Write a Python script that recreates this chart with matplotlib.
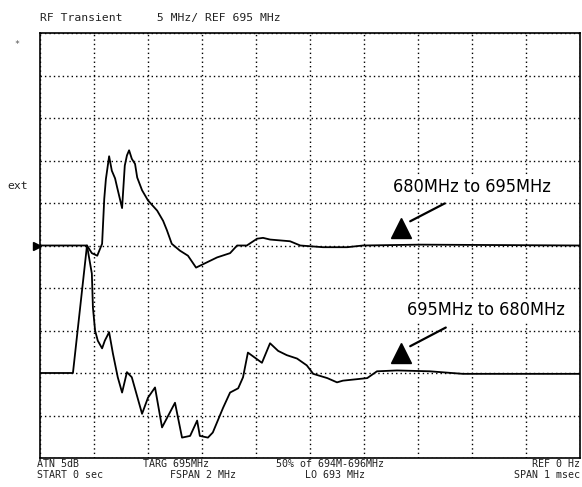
import matplotlib.pyplot as plt
import numpy as np

# time in msec, frequency in MHz
up_t = [0.0, 0.061, 0.087, 0.096, 0.106, 0.115, 0.119, 0.122, 0.128, 0.133,
        0.139, 0.143, 0.152, 0.157, 0.161, 0.165, 0.170, 0.176, 0.180, 0.189,
        0.200, 0.217, 0.228, 0.235, 0.244, 0.259, 0.274, 0.289, 0.328, 0.352,
        0.365, 0.383, 0.402, 0.413, 0.426, 0.463, 0.482, 0.524, 0.569, 0.598,
        0.704, 1.0]
up_f = [680.0, 680.0, 695.0, 694.1, 693.8, 695.2, 700.5, 702.8, 705.5, 703.8,
        702.9, 701.8, 699.4, 704.4, 705.6, 706.2, 705.2, 704.6, 703.0, 701.5,
        700.3, 699.1, 697.9, 696.8, 695.2, 694.4, 693.8, 692.4, 693.6, 694.1,
        695.0, 695.0, 695.8, 695.9, 695.7, 695.5, 695.0, 694.8, 694.8, 695.0,
        695.1, 695.0]

down_t = [0.0, 0.087, 0.096, 0.098, 0.102, 0.107, 0.115, 0.120, 0.128, 0.135,
          0.144, 0.152, 0.161, 0.170, 0.189, 0.200, 0.213, 0.226, 0.250, 0.263,
          0.278, 0.291, 0.296, 0.311, 0.320, 0.339, 0.352, 0.367, 0.376, 0.385,
          0.398, 0.411, 0.426, 0.441, 0.457, 0.476, 0.494, 0.506, 0.532, 0.550,
          0.561, 0.606, 0.624, 0.661, 0.722, 0.783, 0.839, 1.0]
down_f = [695.0, 695.0, 691.7, 687.7, 685.0, 683.8, 682.9, 683.8, 684.8, 682.3,
          679.5, 677.7, 680.1, 679.5, 675.2, 677.1, 678.3, 673.6, 676.5, 672.4,
          672.6, 674.4, 672.6, 672.4, 673.0, 675.9, 677.7, 678.2, 679.5, 682.4,
          681.8, 681.2, 683.5, 682.6, 682.1, 681.7, 680.9, 679.9, 679.4, 678.9,
          679.1, 679.4, 680.2, 680.3, 680.2, 679.9, 679.9, 679.9]

REF = 695.0
MHZ_DIV = 5.0
SPAN = 1.0

header = "RF Transient     5 MHz/ REF 695 MHz"
footer_row1 = ["ATN 5dB", "TARG 695MHz", "50% of 694M-696MHz", "REF 0 Hz"]
footer_row2 = ["START 0 sec", "FSPAN 2 MHz", "LO 693 MHz", "SPAN 1 msec"]
labels = ["680MHz to 695MHz", "695MHz to 680MHz"]

fig = plt.figure(figsize=(5.82, 4.87), dpi=100)
ax = fig.add_axes([40 / 582, 1 - 458 / 487, 540 / 582, 425 / 487])

ax.set_xlim(0, SPAN)
ax.set_ylim(REF - 5 * MHZ_DIV, REF + 5 * MHZ_DIV)
ax.set_xticks(np.linspace(0, SPAN, 11))
ax.set_yticks(np.arange(REF - 5 * MHZ_DIV, REF + 5 * MHZ_DIV + 0.1, MHZ_DIV))
ax.tick_params(left=False, bottom=False, labelleft=False, labelbottom=False)
ax.grid(True, color='black', linestyle=(0, (1, 2.2)), linewidth=1.0)
for s in ax.spines.values():
    s.set_linewidth(1.2)

ax.plot(up_t, up_f, color='black', lw=1.3)
ax.plot(down_t, down_f, color='black', lw=1.3)

# reference level marker on the left edge
ax.plot([-0.006], [REF], marker='>', color='black', ms=6, clip_on=False)

mono = 'DejaVu Sans Mono'
fig.text(40 / 582, 1 - 18 / 487, header, family=mono, fontsize=8.2,
         va='center', color='#222222')
fig.text(14 / 582, 1 - 44 / 487, "*", family=mono, fontsize=6,
         va='center', color='#555555')
fig.text(7 / 582, 1 - 186 / 487, "ext", family=mono, fontsize=8.2,
         va='center', color='#222222')

xs1 = [37, 143, 276, 580]
xs2 = [37, 170, 305, 580]
for i in range(4):
    ha = 'right' if i == 3 else 'left'
    fig.text(xs1[i] / 582, 1 - 464 / 487, footer_row1[i], family=mono,
             fontsize=7.2, va='center', ha=ha, color='#222222')
    fig.text(xs2[i] / 582, 1 - 475 / 487, footer_row2[i], family=mono,
             fontsize=7.2, va='center', ha=ha, color='#222222')

narrow = ['Liberation Sans Narrow', 'DejaVu Sans']
ax.text(0.80, 701.9, labels[0], family=narrow, fontstretch='condensed',
        fontsize=13, ha='center', va='center',
        bbox=dict(fc='white', ec='none', pad=1))
ax.text(0.826, 687.4, labels[1], family=narrow, fontstretch='condensed',
        fontsize=13, ha='center', va='center',
        bbox=dict(fc='white', ec='none', pad=1))

ax.annotate('', xy=(0.681, 697.7), xytext=(0.754, 700.1),
            arrowprops=dict(arrowstyle='-', lw=1.6, color='black'))
ax.annotate('', xy=(0.681, 683.0), xytext=(0.756, 685.5),
            arrowprops=dict(arrowstyle='-', lw=1.6, color='black'))
ax.plot([0.6685, 0.6685], [697.1, 682.4], linestyle='none', marker='^',
        color='black', ms=15)

fig.savefig('out.png', dpi=100)
